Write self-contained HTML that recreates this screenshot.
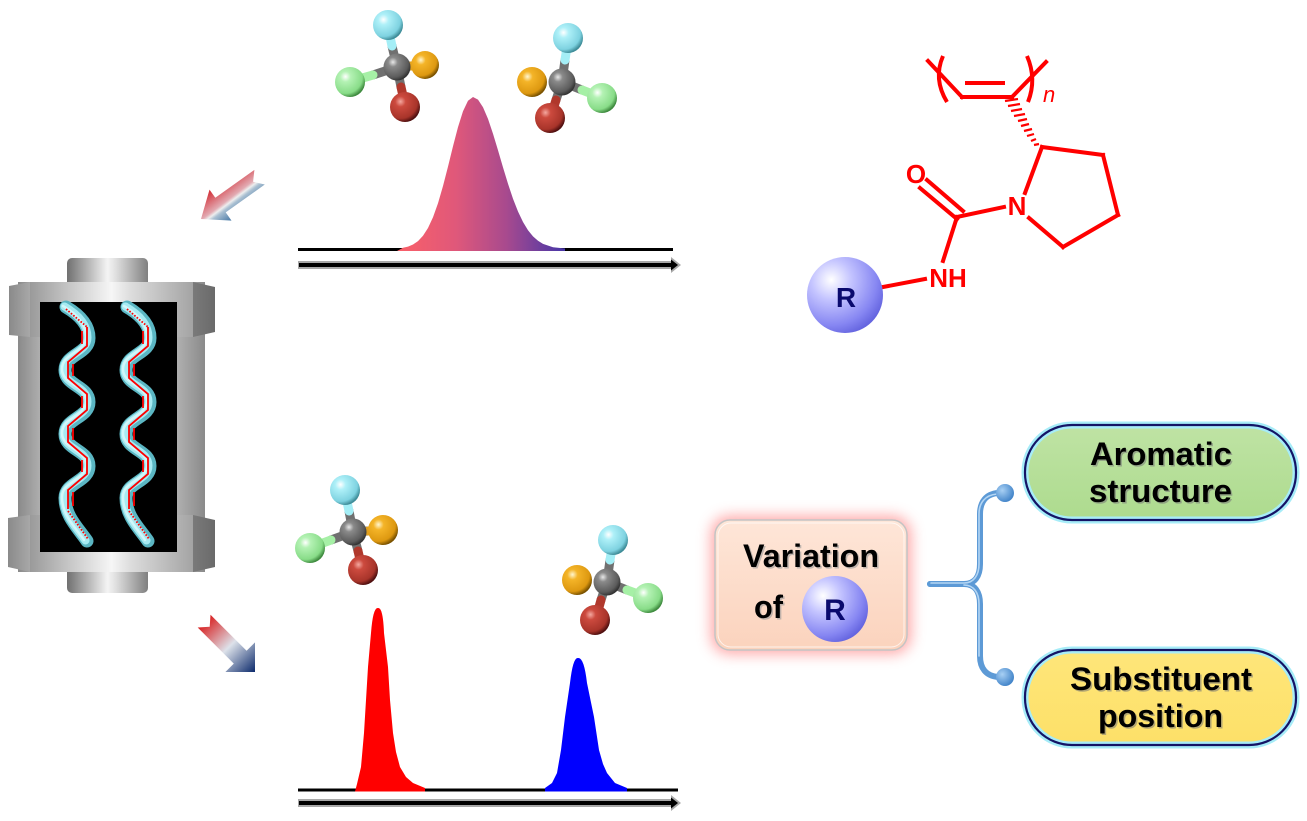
<!DOCTYPE html>
<html><head><meta charset="utf-8"><style>
html,body{margin:0;padding:0;background:#fff;}
svg{display:block;}
text{font-family:"Liberation Sans",Arial,sans-serif;}
</style></head><body>
<svg width="1307" height="821" viewBox="0 0 1307 821" xmlns="http://www.w3.org/2000/svg">
<defs>
  <linearGradient id="capG" x1="0" x2="1" y1="0" y2="0">
    <stop offset="0" stop-color="#707070"/><stop offset="0.5" stop-color="#f4f4f4"/><stop offset="0.6" stop-color="#e0e0e0"/><stop offset="1" stop-color="#808080"/>
  </linearGradient>
  <linearGradient id="faceG" x1="0" x2="1" y1="0" y2="0">
    <stop offset="0" stop-color="#9a9a9a"/><stop offset="0.5" stop-color="#f6f6f6"/><stop offset="0.62" stop-color="#dcdcdc"/><stop offset="1" stop-color="#a4a4a4"/>
  </linearGradient>
  <linearGradient id="bodyG" x1="0" x2="1" y1="0" y2="0">
    <stop offset="0" stop-color="#8a8a8a"/><stop offset="0.15" stop-color="#b8b8b8"/><stop offset="0.85" stop-color="#b0b0b0"/><stop offset="1" stop-color="#8a8a8a"/>
  </linearGradient>
  <linearGradient id="nutL" x1="0" x2="1"><stop offset="0" stop-color="#8a8a8a"/><stop offset="1" stop-color="#a8a8a8"/></linearGradient>
  <linearGradient id="nutR" x1="0" x2="1"><stop offset="0" stop-color="#7a7a7a"/><stop offset="1" stop-color="#6a6a6a"/></linearGradient>

  <linearGradient id="peakG" x1="397" x2="565" y1="0" y2="0" gradientUnits="userSpaceOnUse">
    <stop offset="0" stop-color="#fa6068"/><stop offset="0.35" stop-color="#e0587a"/><stop offset="0.65" stop-color="#a84a8e"/><stop offset="1" stop-color="#4636a8"/>
  </linearGradient>

  <linearGradient id="arrTop" x1="221" y1="184" x2="245" y2="216" gradientUnits="userSpaceOnUse">
    <stop offset="0" stop-color="#d43a42"/><stop offset="0.42" stop-color="#e2aab2"/><stop offset="0.5" stop-color="#eeeeee"/><stop offset="0.58" stop-color="#aac0d2"/><stop offset="1" stop-color="#245f96"/>
  </linearGradient>
  <linearGradient id="arrBot" x1="204" y1="621" x2="255" y2="672" gradientUnits="userSpaceOnUse">
    <stop offset="0" stop-color="#d81e1e"/><stop offset="0.5" stop-color="#dde2ea"/><stop offset="1" stop-color="#0c2a6c"/>
  </linearGradient>

  <radialGradient id="ballR" cx="0.32" cy="0.3" r="0.75">
    <stop offset="0" stop-color="#ffffff"/><stop offset="0.35" stop-color="#c4c4ff"/><stop offset="0.8" stop-color="#8686f2"/><stop offset="1" stop-color="#6666e0"/>
  </radialGradient>

  <radialGradient id="aC" cx="0.35" cy="0.32" r="0.7"><stop offset="0" stop-color="#e8e8e8"/><stop offset="0.25" stop-color="#8a8a8a"/><stop offset="0.8" stop-color="#5c5c5c"/><stop offset="1" stop-color="#333"/></radialGradient>
  <radialGradient id="aCy" cx="0.35" cy="0.32" r="0.7"><stop offset="0" stop-color="#ffffff"/><stop offset="0.25" stop-color="#aef0f8"/><stop offset="0.8" stop-color="#7ed2e0"/><stop offset="1" stop-color="#3e8c98"/></radialGradient>
  <radialGradient id="aO" cx="0.35" cy="0.32" r="0.7"><stop offset="0" stop-color="#fff6d0"/><stop offset="0.25" stop-color="#f4b428"/><stop offset="0.8" stop-color="#dd9810"/><stop offset="1" stop-color="#7a5200"/></radialGradient>
  <radialGradient id="aG" cx="0.35" cy="0.32" r="0.7"><stop offset="0" stop-color="#ffffff"/><stop offset="0.25" stop-color="#b4f2b4"/><stop offset="0.8" stop-color="#88dc88"/><stop offset="1" stop-color="#3e8a3e"/></radialGradient>
  <radialGradient id="aRd" cx="0.35" cy="0.32" r="0.7"><stop offset="0" stop-color="#f4a8a0"/><stop offset="0.25" stop-color="#cc4a3e"/><stop offset="0.8" stop-color="#a8342a"/><stop offset="1" stop-color="#501010"/></radialGradient>

  <linearGradient id="boxG" x1="0" x2="0" y1="0" y2="1">
    <stop offset="0" stop-color="#fee6d8"/><stop offset="1" stop-color="#fbd3bd"/>
  </linearGradient>
  <linearGradient id="greenG" x1="0" x2="0" y1="0" y2="1">
    <stop offset="0" stop-color="#bfe3a4"/><stop offset="1" stop-color="#addb8e"/>
  </linearGradient>
  <linearGradient id="yelG" x1="0" x2="0" y1="0" y2="1">
    <stop offset="0" stop-color="#fee67a"/><stop offset="1" stop-color="#fde068"/>
  </linearGradient>
  <radialGradient id="dotG" cx="0.35" cy="0.35" r="0.7"><stop offset="0" stop-color="#a8d0f4"/><stop offset="1" stop-color="#3f82c8"/></radialGradient>
  <filter id="blur8" x="-30%" y="-30%" width="160%" height="160%"><feGaussianBlur stdDeviation="7"/></filter>
</defs>

<!-- ============ COLUMN ============ -->
<g>
  <rect x="67" y="258" width="81" height="30" rx="5" fill="url(#capG)"/>
  <rect x="67" y="566" width="81" height="27" rx="5" fill="url(#capG)"/>
  <rect x="18" y="282" width="187" height="290" fill="url(#bodyG)"/>
  <rect x="30" y="282" width="163" height="55" fill="url(#faceG)"/>
  <polygon points="9,286 30,282 30,337 9,335" fill="url(#nutL)"/>
  <polygon points="193,282 215,287 215,332 193,337" fill="url(#nutR)"/>
  <rect x="30" y="515" width="163" height="57" fill="url(#faceG)"/>
  <polygon points="8,518 30,515 30,572 8,567" fill="url(#nutL)"/>
  <polygon points="193,515 215,520 215,567 193,572" fill="url(#nutR)"/>
  <rect x="40" y="302" width="137" height="250" fill="#000"/>
</g>

<g id="hx">
  <path d="M66,307 C78,314 89,324 89,338 C89,354 65,354 65,370 C65,386 89,386 89,402 C89,418 65,418 65,434 C65,450 89,450 89,466 C89,482 65,482 65,498 C65,516 78,528 87,541" stroke="#5bb6c3" stroke-width="13" fill="none" stroke-linecap="round"/>
  <path d="M66,307 C78,314 89,324 89,338 C89,354 65,354 65,370 C65,386 89,386 89,402 C89,418 65,418 65,434 C65,450 89,450 89,466 C89,482 65,482 65,498 C65,516 78,528 87,541" stroke="#a6eaf2" stroke-width="8" fill="none" stroke-linecap="round" transform="translate(-1.5,-0.5)"/>
  <path d="M66,307 C78,314 89,324 89,338 C89,354 65,354 65,370 C65,386 89,386 89,402 C89,418 65,418 65,434 C65,450 89,450 89,466 C89,482 65,482 65,498 C65,516 78,528 87,541" stroke="#e4fcfe" stroke-width="2.5" fill="none" stroke-linecap="round" opacity="0.7" transform="translate(-3,-1)"/>
  <path d="M66,309 L87,327" stroke="#ff0000" stroke-width="1.8" stroke-dasharray="1.6 1.6" fill="none"/>
  <path d="M87,327 L87,346 L68,362 L68,378 L87,394 L87,410 L68,426 L68,442 L87,458 L87,474 L68,490 L68,509" stroke="#ff0000" stroke-width="1.8" fill="none"/>
  <path d="M82,331 L82,344 M73,364 L73,376 M82,396 L82,408 M73,428 L73,440 M82,460 L82,472 M73,492 L73,506" stroke="#ff0000" stroke-width="1.8" fill="none"/>
  <path d="M68,511 L88,539" stroke="#ff0000" stroke-width="1.8" stroke-dasharray="1.6 1.6" fill="none"/>
</g>
<use href="#hx" transform="translate(61,0)"/>

<!-- ============ ARROWS ============ -->
<polygon points="201,219 231.5,220.6 225.7,212.4 264.8,184.5 253.1,181.8 254.4,169.9 215.3,197.8 209.5,189.6" fill="url(#arrTop)"/>
<polygon points="255,672 225.4,672 233.8,663.6 197.7,627.5 209.7,626.7 210.5,614.7 246.6,650.8 255,642.4" fill="url(#arrBot)"/>

<!-- ============ TOP CHROMATOGRAM ============ -->
<line x1="298" y1="249.5" x2="673" y2="249.5" stroke="#000" stroke-width="3"/>
<polygon fill="url(#peakG)" points="397,251 403,247.7 408,246.6 413,244.5 418,241.1 423,235.8 428,228 433,217.2 438,203.2 443,186 448,166.6 453,146.2 458,127.1 463,111.2 468,100.7 473,97 478,99.6 483,107.2 488,118.9 493,133.7 498,150.3 503,167.4 508,183.8 513,198.7 518,211.5 523,222 528,230.2 533,236.4 538,240.8 543,243.9 553,247.2 565,248.5 565,251"/>
<g>
  <rect x="298" y="261" width="374" height="8" fill="#a8a8a8"/>
  <rect x="299" y="263" width="373" height="4" fill="#000"/>
  <polygon points="671,257 681,265 671,273" fill="#a8a8a8"/>
  <polygon points="671,259.5 678,265 671,270.5" fill="#000"/>
</g>

<!-- ============ BOTTOM CHROMATOGRAM ============ -->
<line x1="298" y1="790" x2="678" y2="790" stroke="#000" stroke-width="3"/>
<path fill="#ff0000" d="M355,791.5 L357,784 L361,767 L364,733 L366,700 L368,667 L371,633 Q373,607 378,608 Q383,607 384,633 L388,667 L390,700 L393,733 L396,752 L400,767 L406,777 L413,783 L425,788 L425,791.5 Z"/>
<path fill="#0000ff" d="M545,791.5 L545,788 L552,783 L557,773 L561,750 L565,717 L570,683 Q573,657 578,658 Q584,657 587,683 L594,717 L599,750 L603,764 L607,773 L615,783 L627,788 L627,791.5 Z"/>
<g>
  <rect x="298" y="799" width="374" height="8" fill="#a8a8a8"/>
  <rect x="299" y="801" width="373" height="4" fill="#000"/>
  <polygon points="671,795 681,803 671,811" fill="#a8a8a8"/>
  <polygon points="671,797.5 678,803 671,808.5" fill="#000"/>
</g>

<!-- ============ MOLECULES ============ -->
<g>
  <g stroke-width="9" stroke-linecap="round">
    <line x1="397" y1="67" x2="392" y2="46" stroke="#707070"/><line x1="392" y1="46" x2="388" y2="27" stroke="#a4eef6"/>
    <line x1="397" y1="67" x2="373" y2="75" stroke="#707070"/><line x1="373" y1="75" x2="352" y2="81" stroke="#a6f0a6"/>
    <line x1="397" y1="67" x2="401" y2="87" stroke="#707070"/><line x1="401" y1="87" x2="405" y2="105" stroke="#b0382c"/>
    <line x1="397" y1="67" x2="411" y2="66" stroke="#707070"/><line x1="411" y1="66" x2="423" y2="65" stroke="#e0a020"/>
  </g>
  <circle cx="388" cy="25" r="15" fill="url(#aCy)"/>
  <circle cx="350" cy="82" r="15" fill="url(#aG)"/>
  <circle cx="397" cy="67" r="13.5" fill="url(#aC)"/>
  <circle cx="425" cy="65" r="14" fill="url(#aO)"/>
  <circle cx="405" cy="107" r="15" fill="url(#aRd)"/>
</g>
<g>
  <g stroke-width="9" stroke-linecap="round">
    <line x1="562" y1="82" x2="565" y2="60" stroke="#707070"/><line x1="565" y1="60" x2="568" y2="40" stroke="#a4eef6"/>
    <line x1="562" y1="82" x2="582" y2="90" stroke="#707070"/><line x1="582" y1="90" x2="600" y2="97" stroke="#a6f0a6"/>
    <line x1="562" y1="82" x2="556" y2="100" stroke="#707070"/><line x1="556" y1="100" x2="551" y2="116" stroke="#b0382c"/>
  </g>
  <circle cx="568" cy="38" r="15" fill="url(#aCy)"/>
  <circle cx="562" cy="82" r="13.5" fill="url(#aC)"/>
  <circle cx="532" cy="82" r="15" fill="url(#aO)"/>
  <circle cx="602" cy="98" r="15" fill="url(#aG)"/>
  <circle cx="550" cy="118" r="15" fill="url(#aRd)"/>
</g>
<g>
  <g stroke-width="9" stroke-linecap="round">
    <line x1="353" y1="532" x2="349" y2="511" stroke="#707070"/><line x1="349" y1="511" x2="345" y2="492" stroke="#a4eef6"/>
    <line x1="353" y1="532" x2="331" y2="540" stroke="#707070"/><line x1="331" y1="540" x2="312" y2="547" stroke="#a6f0a6"/>
    <line x1="353" y1="532" x2="358" y2="551" stroke="#707070"/><line x1="358" y1="551" x2="362" y2="568" stroke="#b0382c"/>
    <line x1="353" y1="532" x2="368" y2="531" stroke="#707070"/><line x1="368" y1="531" x2="381" y2="530" stroke="#e0a020"/>
  </g>
  <circle cx="345" cy="490" r="15" fill="url(#aCy)"/>
  <circle cx="310" cy="548" r="15" fill="url(#aG)"/>
  <circle cx="353" cy="532" r="13.5" fill="url(#aC)"/>
  <circle cx="383" cy="530" r="15" fill="url(#aO)"/>
  <circle cx="363" cy="570" r="15" fill="url(#aRd)"/>
</g>
<g>
  <g stroke-width="9" stroke-linecap="round">
    <line x1="607" y1="582" x2="610" y2="560" stroke="#707070"/><line x1="610" y1="560" x2="613" y2="542" stroke="#a4eef6"/>
    <line x1="607" y1="582" x2="627" y2="590" stroke="#707070"/><line x1="627" y1="590" x2="646" y2="597" stroke="#a6f0a6"/>
    <line x1="607" y1="582" x2="601" y2="600" stroke="#707070"/><line x1="601" y1="600" x2="596" y2="618" stroke="#b0382c"/>
  </g>
  <circle cx="613" cy="540" r="15" fill="url(#aCy)"/>
  <circle cx="607" cy="582" r="13.5" fill="url(#aC)"/>
  <circle cx="577" cy="580" r="15" fill="url(#aO)"/>
  <circle cx="648" cy="598" r="15" fill="url(#aG)"/>
  <circle cx="595" cy="620" r="15" fill="url(#aRd)"/>
</g>

<!-- ============ CHEMICAL STRUCTURE ============ -->
<g stroke="#ff0000" stroke-width="4" fill="none" stroke-linecap="square">
  <line x1="883" y1="287" x2="925" y2="279"/>
  <line x1="943" y1="261" x2="957" y2="217"/>
  <line x1="920" y1="188" x2="957" y2="219"/>
  <line x1="927" y1="180" x2="963" y2="211"/>
  <line x1="957" y1="217" x2="1004" y2="207"/>
  <line x1="1025" y1="193" x2="1042" y2="147"/>
  <line x1="1042" y1="147" x2="1103" y2="155"/>
  <line x1="1103" y1="155" x2="1118" y2="215"/>
  <line x1="1118" y1="215" x2="1063" y2="247"/>
  <line x1="1063" y1="247" x2="1029" y2="218"/>
  <line x1="962" y1="97" x2="1012" y2="97"/>
  <line x1="967" y1="83" x2="1003" y2="83"/>
  <line x1="962" y1="97" x2="928" y2="61"/>
  <line x1="1012" y1="97" x2="1046" y2="62"/>
  <path d="M943,56 Q933,79 947,102" stroke-linecap="butt"/>
  <path d="M1027,56 Q1037,79 1028,102" stroke-linecap="butt"/>
</g>
<g stroke="#ff0000" stroke-width="2.2">
  <line x1="1005" y1="101" x2="1018" y2="99"/>
  <line x1="1008" y1="106" x2="1020" y2="104"/>
  <line x1="1011" y1="111" x2="1022" y2="109"/>
  <line x1="1014" y1="116" x2="1025" y2="114"/>
  <line x1="1018" y1="121" x2="1027" y2="119"/>
  <line x1="1021" y1="126" x2="1029" y2="124"/>
  <line x1="1024" y1="131" x2="1032" y2="129"/>
  <line x1="1027" y1="136" x2="1034" y2="134"/>
  <line x1="1031" y1="141" x2="1036" y2="139"/>
  <line x1="1034" y1="145" x2="1039" y2="144"/>
</g>
<text x="1043" y="102" font-family="'Liberation Serif',serif" font-style="italic" font-size="22" fill="#ff0000">n</text>
<text x="916" y="183" font-size="26" font-weight="bold" fill="#ff0000" text-anchor="middle">O</text>
<text x="1017" y="215" font-size="26" font-weight="bold" fill="#ff0000" text-anchor="middle">N</text>
<text x="948" y="287" font-size="26" font-weight="bold" fill="#ff0000" text-anchor="middle">NH</text>
<circle cx="845" cy="295" r="38" fill="url(#ballR)"/>
<text x="846" y="307" font-size="28" font-weight="bold" fill="#0a0a6e" text-anchor="middle">R</text>

<!-- ============ VARIATION BOX ============ -->
<rect x="711" y="516" width="200" height="138" rx="18" fill="#ff8a8a" opacity="0.75" filter="url(#blur8)"/>
<rect x="715" y="520" width="192" height="130" rx="15" fill="url(#boxG)" stroke="#c4c4c4" stroke-width="1.5"/>
<rect x="718" y="523" width="186" height="124" rx="13" fill="none" stroke="#ffffff" stroke-width="1" opacity="0.7"/>
<text x="812.5" y="568.5" font-size="32" font-weight="bold" fill="#999" opacity="0.6" text-anchor="middle" textLength="136" lengthAdjust="spacingAndGlyphs">Variation</text>
<text x="811" y="567" font-size="32" font-weight="bold" fill="#000" text-anchor="middle" textLength="136" lengthAdjust="spacingAndGlyphs">Variation</text>
<text x="755.5" y="619.5" font-size="32" font-weight="bold" fill="#999" opacity="0.6" textLength="29" lengthAdjust="spacingAndGlyphs">of</text>
<text x="754" y="618" font-size="32" font-weight="bold" fill="#000" textLength="29" lengthAdjust="spacingAndGlyphs">of</text>
<circle cx="835" cy="609" r="33" fill="url(#ballR)"/>
<text x="835" y="620" font-size="30" font-weight="bold" fill="#0a0a6e" text-anchor="middle">R</text>

<!-- ============ BRACE ============ -->
<g fill="none" stroke-linecap="round">
  <path d="M930,584 L964,584 C975,584 980,576 980,564 L980,514 C980,502 986,494 998,493" stroke="#5d9ad6" stroke-width="6"/>
  <path d="M930,584 L964,584 C975,584 980,592 980,604 L980,656 C980,668 986,676 998,677" stroke="#5d9ad6" stroke-width="6"/>
  <path d="M931,583 L964,583 C974,583 979,575 979,564 L979,514 C979,503 985,495 997,494" stroke="#b4d6f4" stroke-width="1.6"/>
  <path d="M964,585 C974,585 979,593 979,604 L979,656" stroke="#b4d6f4" stroke-width="1.6"/>
</g>
<circle cx="1005" cy="493" r="9" fill="url(#dotG)"/>
<circle cx="1005" cy="677" r="9" fill="url(#dotG)"/>

<!-- ============ PILLS ============ -->
<rect x="1025" y="425" width="271" height="95" rx="47" fill="url(#greenG)" stroke="#a6ecf8" stroke-width="7"/>
<rect x="1025" y="425" width="271" height="95" rx="47" fill="none" stroke="#141466" stroke-width="2.2"/>
<text x="1162.5" y="466.5" font-size="32" font-weight="bold" fill="#777" opacity="0.55" text-anchor="middle" textLength="142" lengthAdjust="spacingAndGlyphs">Aromatic</text>
<text x="1161" y="465" font-size="32" font-weight="bold" fill="#000" text-anchor="middle" textLength="142" lengthAdjust="spacingAndGlyphs">Aromatic</text>
<text x="1162" y="503.5" font-size="32" font-weight="bold" fill="#777" opacity="0.55" text-anchor="middle" textLength="143" lengthAdjust="spacingAndGlyphs">structure</text>
<text x="1160.5" y="502" font-size="32" font-weight="bold" fill="#000" text-anchor="middle" textLength="143" lengthAdjust="spacingAndGlyphs">structure</text>

<rect x="1025" y="650" width="271" height="95" rx="47" fill="url(#yelG)" stroke="#a6ecf8" stroke-width="7"/>
<rect x="1025" y="650" width="271" height="95" rx="47" fill="none" stroke="#141466" stroke-width="2.2"/>
<text x="1162.5" y="691.5" font-size="32" font-weight="bold" fill="#777" opacity="0.55" text-anchor="middle" textLength="182" lengthAdjust="spacingAndGlyphs">Substituent</text>
<text x="1161" y="690" font-size="32" font-weight="bold" fill="#000" text-anchor="middle" textLength="182" lengthAdjust="spacingAndGlyphs">Substituent</text>
<text x="1162" y="728.5" font-size="32" font-weight="bold" fill="#777" opacity="0.55" text-anchor="middle" textLength="125" lengthAdjust="spacingAndGlyphs">position</text>
<text x="1160.5" y="727" font-size="32" font-weight="bold" fill="#000" text-anchor="middle" textLength="125" lengthAdjust="spacingAndGlyphs">position</text>
</svg>
</body></html>
